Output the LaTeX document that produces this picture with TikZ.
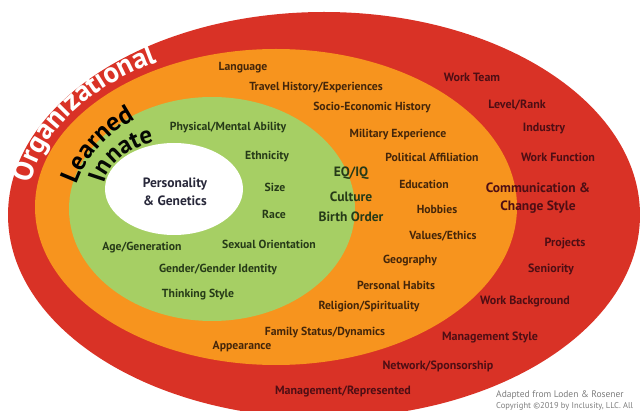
\documentclass[tikz,border=0pt]{standalone}
\usepackage{fontspec}
\setmainfont{PT Sans}
\usepackage{tikz}
\usetikzlibrary{calc}
\usetikzlibrary{decorations.text}
\definecolor{orgred}{RGB}{217,50,38}
\definecolor{lrnorange}{RGB}{247,148,30}
\definecolor{inngreen}{RGB}{166,207,100}
\definecolor{inntext}{RGB}{38,58,24}
\definecolor{lrntext}{RGB}{68,38,10}
\definecolor{orgtext}{RGB}{78,14,20}
\definecolor{coretext}{RGB}{40,40,58}
\definecolor{notegray}{RGB}{125,125,125}
\tikzset{
  lbl/.style={font=\bfseries\fontsize{11.7}{17}\selectfont, inner sep=0pt, align=center},
  innlbl/.style={lbl, text=inntext},
  lrnlbl/.style={lbl, text=lrntext},
  orglbl/.style={lbl, text=orgtext, font=\bfseries\fontsize{12}{17}\selectfont},
  biglbl/.style={font=\bfseries\fontsize{13.5}{18}\selectfont},
  note/.style={anchor=west, inner sep=0pt, text=notegray}
}
\newcommand{\ringtitle}[9]{\path[decorate,decoration={text along path,text align=center,text color=#7,text={|#8|#9}}] ($(#1,#2)+(#5:#3 and #4)$) arc[start angle=#5,end angle=#6,x radius=#3,y radius=#4];}

\begin{document}
\begin{tikzpicture}[x=1pt,y=1pt]
    \useasboundingbox (0,0) rectangle (640,410);
    \clip (0,0) rectangle (640,410);
    %rings
    \fill[orgred] (324,195) ellipse[x radius=316, y radius=203];
    \fill[lrnorange] (276,203) ellipse[x radius=241, y radius=158];
    \fill[inngreen] (212,201) ellipse[x radius=143, y radius=112];
    \fill[white] (174,221) ellipse[x radius=69, y radius=46];
    %ring titles
    \ringtitle{276}{203}{248}{165}{184}{110}{white}{\fontsize{29}{29}\selectfont\bfseries}{Organizational}
    \ringtitle{218}{196}{146}{115}{180}{112}{black}{\fontsize{26}{26}\selectfont\bfseries}{Learned}
    \ringtitle{179}{218}{76}{53}{178}{104}{black!85!inntext}{\fontsize{25}{25}\selectfont\bfseries}{Innate}
    %innate
    \node[innlbl, biglbl, text=coretext] (core) at (175,218) {Personality\\\& Genetics};
    \foreach \txt/\x/\y [count=\i] in {{Physical/Mental Ability}/228/282, Ethnicity/267/253, Size/275/223,
        Race/274/196, Sexual Orientation/269/166, {Age/Generation}/142/162,
        {Gender/Gender Identity}/218/140, Thinking Style/198/115}
        \node[innlbl] (inn\i) at (\x,\y) {\txt};
    \foreach \txt/\x/\y [count=\i] in {{EQ/IQ}/351/237, Culture/351/213, Birth Order/351/193}
        \node[innlbl, biglbl] (big\i) at (\x,\y) {\txt};
    %learned
    \foreach \txt/\x/\y [count=\i] in {Language/243/342, {Travel History/Experiences}/316/322,
        Socio-Economic History/372/302, Military Experience/398/275, Political Affiliation/432/253,
        Education/424/226, Hobbies/437/201, {Values/Ethics}/443/174, Geography/410/149,
        Personal Habits/396/125, {Religion/Spirituality}/369/103, {Family Status/Dynamics}/325/77,
        Appearance/242/63}
        \node[lrnlbl] (lrn\i) at (\x,\y) {\txt};
    %organizational
    \foreach \txt/\x/\y [count=\i] in {Work Team/472/333, {Level/Rank}/517/305, Industry/544/281,
        Work Function/558/253, Projects/565/167, Seniority/551/141, Work Background/525/108,
        Management Style/490/73, {Network/Sponsorship}/438/44, {Management/Represented}/343/19}
        \node[orglbl] (org\i) at (\x,\y) {\txt};
    \node[orglbl, biglbl] (comm) at (538,212) {Communication \&\\Change Style};
    %source
    \node[note, font=\fontsize{9.5}{9.5}\selectfont] (src) at (496,15) {Adapted from Loden \& Rosener};
    \node[note, font=\fontsize{8.5}{8.5}\selectfont] (copy) at (496,4) {Copyright ©2019 by Inclusity, LLC. All};
\end{tikzpicture}
\end{document}
